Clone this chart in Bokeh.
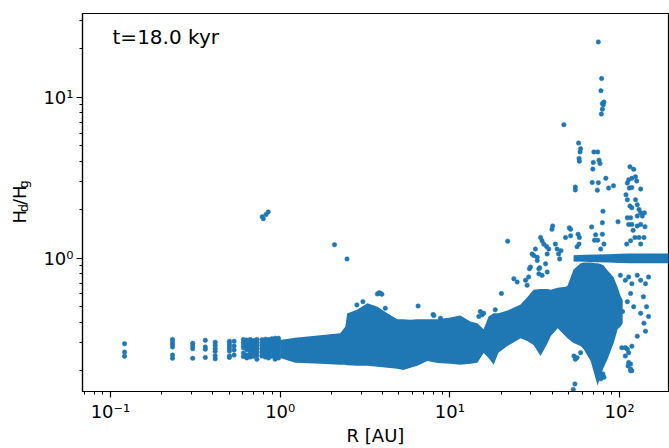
import numpy as np
from bokeh.plotting import figure
from bokeh.layouts import row
from bokeh.models import Label, CustomJSTickFormatter, ColumnDataSource, Range1d
from bokeh.core.properties import value
from bokeh.embed import file_html
from bokeh.resources import INLINE

BLUE = "#1f77b4"

# ---- dense main cloud: envelope (R [AU], lower H, upper H)
band_R = [1.00, 1.226, 1.722, 2.26, 2.42, 2.48, 2.85, 3.26, 3.74, 4.28,
          4.90, 5.32, 5.85, 6.43, 7.36, 8.44, 10.07, 11.5, 13.2, 14.5,
          15.8, 16.9, 18.1, 19.3, 21.8, 26.1, 28.7, 31.1, 34.2, 37.6,
          39.2, 43.1, 48.0, 49.3, 53.5, 58.9, 61.4, 67.5, 72.2, 74.2,
          77.3, 80.5, 84.9, 88.5, 92.2, 97.3, 101.4, 104.2]
band_hi = [0.310, 0.320, 0.332, 0.342, 0.377, 0.453, 0.480, 0.525, 0.500, 0.455,
           0.418, 0.417, 0.415, 0.417, 0.417, 0.417, 0.428, 0.441, 0.405, 0.395,
           0.362, 0.435, 0.455, 0.455, 0.473, 0.515, 0.576, 0.636, 0.645, 0.645,
           0.636, 0.655, 0.664, 0.674, 0.85, 0.93, 0.94, 0.94, 0.93, 0.93,
           0.92, 0.90, 0.84, 0.80, 0.76, 0.66, 0.58, 0.55]
band_lo = [0.240, 0.224, 0.221, 0.2175, 0.2175, 0.216, 0.2145, 0.2145, 0.2115, 0.2085,
           0.2055, 0.2018, 0.2085, 0.2145, 0.230, 0.223, 0.221, 0.2175, 0.221, 0.224,
           0.2577, 0.240, 0.2175, 0.2588, 0.2844, 0.3185, 0.3053, 0.2885, 0.247, 0.2968,
           0.3276, 0.3668, 0.3276, 0.3185, 0.2968, 0.2844, 0.2715, 0.230, 0.1784, 0.1617,
           0.1862, 0.209, 0.2367, 0.265, 0.2968, 0.362, 0.377, 0.3937]

# ---- horizontal ridge at H ~ 1 in the outer disc
ridge_R = [53.5, 62, 72, 85, 100, 115, 130, 150, 175, 200]
ridge_lo = [0.955, 0.95, 0.945, 0.94, 0.935, 0.93, 0.93, 0.93, 0.93, 0.93]
ridge_hi = [1.045, 1.05, 1.055, 1.06, 1.065, 1.07, 1.07, 1.07, 1.07, 1.07]

# ---- inner disc: discrete radial columns of particles
col_R = [0.121, 0.232, 0.305, 0.362, 0.414, 0.502, 0.535,
         0.607, 0.636, 0.665, 0.696, 0.729, 0.780, 0.816, 0.853, 0.893, 0.934, 0.977]
col_H = [
    [0.294, 0.261, 0.246],
    [0.313, 0.302, 0.291, 0.281, 0.250, 0.239],
    [0.296, 0.285, 0.274, 0.239],
    [0.309, 0.281, 0.272, 0.242],
    [0.301, 0.288, 0.275, 0.264, 0.248, 0.237],
    [0.305, 0.294, 0.285, 0.275, 0.265, 0.247, 0.242],
    [0.305, 0.285, 0.269, 0.250],
    [0.312, 0.300, 0.289, 0.278, 0.258, 0.245],
    [0.310, 0.298, 0.285, 0.270, 0.250, 0.240],
    [0.312, 0.302, 0.292, 0.280, 0.266, 0.255, 0.243],
    [0.308, 0.296, 0.283, 0.272, 0.258, 0.246],
    [0.313, 0.300, 0.289, 0.276, 0.262, 0.250, 0.236],
    [0.311, 0.297, 0.286, 0.273, 0.260, 0.247],
    [0.314, 0.302, 0.290, 0.280, 0.268, 0.255, 0.243],
    [0.312, 0.300, 0.287, 0.274, 0.262, 0.250, 0.240],
    [0.316, 0.304, 0.292, 0.281, 0.270, 0.258, 0.246],
    [0.318, 0.306, 0.295, 0.283, 0.271, 0.259, 0.247, 0.236],
    [0.318, 0.307, 0.296, 0.285, 0.273, 0.262, 0.250, 0.240],
]

# ---- scattered particles (R, H)
pts_inner = [(0.783, 1.81), (0.795, 1.76), (0.825, 1.87), (0.85, 1.94),
             (2.09, 1.213), (2.475, 0.99),
             (3.74, 0.600), (3.82, 0.610), (3.90, 0.605), (3.97, 0.597),
             (2.83, 0.513), (3.07, 0.537), (6.49, 0.505), (7.96, 0.447), (4.16, 0.489),
             (8.04, 0.44), (8.80, 0.424)]
pts_mid = [(20.1, 0.604), (18.5, 0.478), (15.1, 0.466), (15.5, 0.445), (15.8, 0.455), (14.8, 0.435),
           (21.9, 1.277), (23.8, 0.746), (24.9, 0.712), (27.9, 0.730), (28.5, 0.680), (29.1, 0.765),
           (29.8, 0.881), (30.5, 1.063), (31.9, 1.14), (34.2, 1.345), (34.9, 1.284), (35.7, 1.224),
           (32.7, 0.968), (33.4, 0.86), (34.9, 0.783), (36.6, 0.923), (37.4, 0.821), (40.3, 1.587),
           (39.9, 1.513), (37.1, 1.185), (38.2, 1.14), (37.4, 1.063), (31.2, 1.039), (32.7, 1.014),
           (41.8, 1.224), (42.8, 1.14), (43.7, 1.063), (44.3, 0.99), (45.1, 1.115), (48.0, 1.345),
           (51.4, 1.513), (56.9, 1.41), (57.9, 1.345), (57.6, 1.224), (56.1, 1.18), (29.4, 0.86),
           (33.8, 0.872), (33.4, 0.801), (50.5, 1.545), (51.4, 1.378), (71.1, 1.295)]
pts_high = [(46.9, 6.76), (74.9, 22.1), (78.3, 13.1), (77.6, 11.0), (79.1, 9.15), (80.8, 9.36),
            (79.1, 8.44), (78.0, 7.87), (80.0, 9.0),
            (57.3, 5.20), (58.9, 4.80), (58.4, 4.58), (57.7, 4.17), (57.9, 4.01), (70.5, 4.58),
            (74.2, 4.58), (75.6, 4.07), (76.6, 3.88), (69.9, 3.94), (69.5, 3.58), (68.9, 2.955),
            (74.9, 2.95), (73.9, 2.65), (82.9, 3.14), (86.1, 2.73), (92.0, 2.82), (54.8, 2.77),
            (54.8, 2.66),
            (79.7, 1.96), (79.1, 1.663), (97.8, 1.686), (68.4, 1.565), (72.2, 1.398), (79.1, 1.41),
            (74.2, 1.295), (80.8, 1.224), (77.3, 1.14)]
pts_outer = [(115, 3.70), (121, 3.57), (124, 3.21), (118, 3.14), (113, 3.07), (111, 2.93),
             (109, 2.48), (114, 2.73), (118, 2.75), (126, 3.02), (133, 2.69), (111, 2.31),
             (115, 2.11), (118, 2.06), (124, 2.31), (127, 2.15), (130, 2.01), (133, 1.915),
             (136, 1.83), (140, 1.915), (127, 1.83), (116, 1.784), (111, 1.784), (113, 1.623),
             (118, 1.623), (127, 1.587), (133, 1.623), (141, 1.571), (139, 1.345), (130, 1.345),
             (120, 1.49), (123, 1.345), (116, 1.284), (110, 1.224), (133, 1.224),
             (101, 0.783), (108, 0.730), (113, 0.765), (118, 0.695), (127, 0.783), (133, 0.730),
             (142, 0.695), (148, 0.765), (138, 0.576), (144, 0.50), (148, 0.435), (133, 0.455),
             (121, 0.50), (111, 0.537), (116, 0.604), (139, 0.395), (142, 0.352), (127, 0.328),
             (118, 0.284), (111, 0.2715), (113, 0.2247), (116, 0.20), (108, 0.247), (103, 0.2777),
             (104, 0.466)]
pts_low = [(54.5, 0.1656), (53.3, 0.153), (53.8, 0.247), (54.8, 0.236), (73.8, 0.195),
           (77.3, 0.178), (79.1, 0.186), (56.1, 0.241), (58.9, 0.259), (79.7, 0.191),
           (80.8, 0.182), (108, 0.278), (113, 0.259), (116, 0.220), (118, 0.20),
           (116, 0.205), (112, 0.214)]

title_text = "t=18.0 kyr"
xlabel_text = "R [AU]"
ylabel_parts = ["H", "d", "/H", "g"]

FONT = "DejaVu Sans"
STRIP_W = 40

p = figure(width=669 - STRIP_W, height=448, x_axis_type="log", y_axis_type="log",
           x_range=(0.0684, 194), y_range=(0.1485, 33.2),
           output_backend="svg", toolbar_location=None,
           min_border_left=82 - STRIP_W, min_border_right=1, min_border_top=13, min_border_bottom=52)

p.xgrid.visible = False
p.ygrid.visible = False
p.outline_line_color = "black"
p.outline_line_width = 1.2
p.background_fill_color = "white"
p.border_fill_color = "white"

fmt_code = """
const e = Math.round(Math.log10(tick));
const sup = {"-": "\u207b", "0": "\u2070", "1": "\u00b9", "2": "\u00b2", "3": "\u00b3"};
return "10" + String(e).split("").map(c => sup[c]).join("");
"""
for ax in (p.xaxis[0], p.yaxis[0]):
    ax.formatter = CustomJSTickFormatter(code=fmt_code)
    ax.major_tick_out = 6
    ax.major_tick_in = 0
    ax.minor_tick_out = 3
    ax.minor_tick_in = 0
    ax.major_tick_line_width = 1.2
    ax.minor_tick_line_width = 1
    ax.axis_line_width = 1.2
    ax.major_label_text_font = FONT
    ax.major_label_text_font_size = "18px"
    ax.major_label_text_color = "black"
    ax.major_label_standoff = 3

p.xaxis.axis_label = xlabel_text
p.xaxis.axis_label_text_font = FONT
p.xaxis.axis_label_text_font_size = "18px"
p.xaxis.axis_label_text_font_style = "normal"
p.xaxis.axis_label_text_color = "black"
p.xaxis.axis_label_standoff = 0

# dense cloud and ridge
p.varea(x=band_R, y1=band_lo, y2=band_hi, fill_color=BLUE)
p.varea(x=ridge_R, y1=ridge_lo, y2=ridge_hi, fill_color=BLUE)

# columns
cx, cy = [], []
for r, hs in zip(col_R, col_H):
    for h in hs:
        cx.append(r)
        cy.append(h)
p.scatter(cx, cy, size=4.5, fill_color=BLUE, line_color=BLUE, line_width=0.5)

allpts = pts_inner + pts_mid + pts_high + pts_outer + pts_low
src = ColumnDataSource(dict(R=[a for a, b in allpts], H=[b for a, b in allpts]))
p.scatter("R", "H", source=src, size=4.5, fill_color=BLUE, line_color=BLUE, line_width=0.5)

# in-panel time stamp
p.add_layout(Label(x=0.1028, y=23.6, text=title_text, text_font=FONT,
                   text_font_size="20px", text_baseline="alphabetic", text_color="black"))

# ---- narrow strip on the left carrying the rotated y label H_d/H_g
q = figure(width=STRIP_W, height=448, x_range=Range1d(0, STRIP_W), y_range=Range1d(0, 448),
           output_backend="svg", toolbar_location=None,
           x_axis_location=None, y_axis_location=None,
           min_border_left=0, min_border_right=0, min_border_top=0, min_border_bottom=0)
q.outline_line_color = None
q.xgrid.visible = False
q.ygrid.visible = False
q.border_fill_color = "white"
q.background_fill_color = "white"
# strip pixels measured from the bottom: (baseline x, start height, size)
lab_x = [19, 22.5, 19, 22.5]
lab_y = [448 - 249, 448 - 235.5, 448 - 227, 448 - 207.5]
lab_size = ["18px", "13px", "18px", "13px"]
q.text(x=lab_x, y=lab_y, text=ylabel_parts, angle=np.pi / 2,
       text_font=value(FONT), text_font_size=lab_size,
       text_baseline="alphabetic", text_align="left", text_color="black")

layout = row(q, p, spacing=0)
open("out.html", "w").write(file_html(layout, INLINE))
